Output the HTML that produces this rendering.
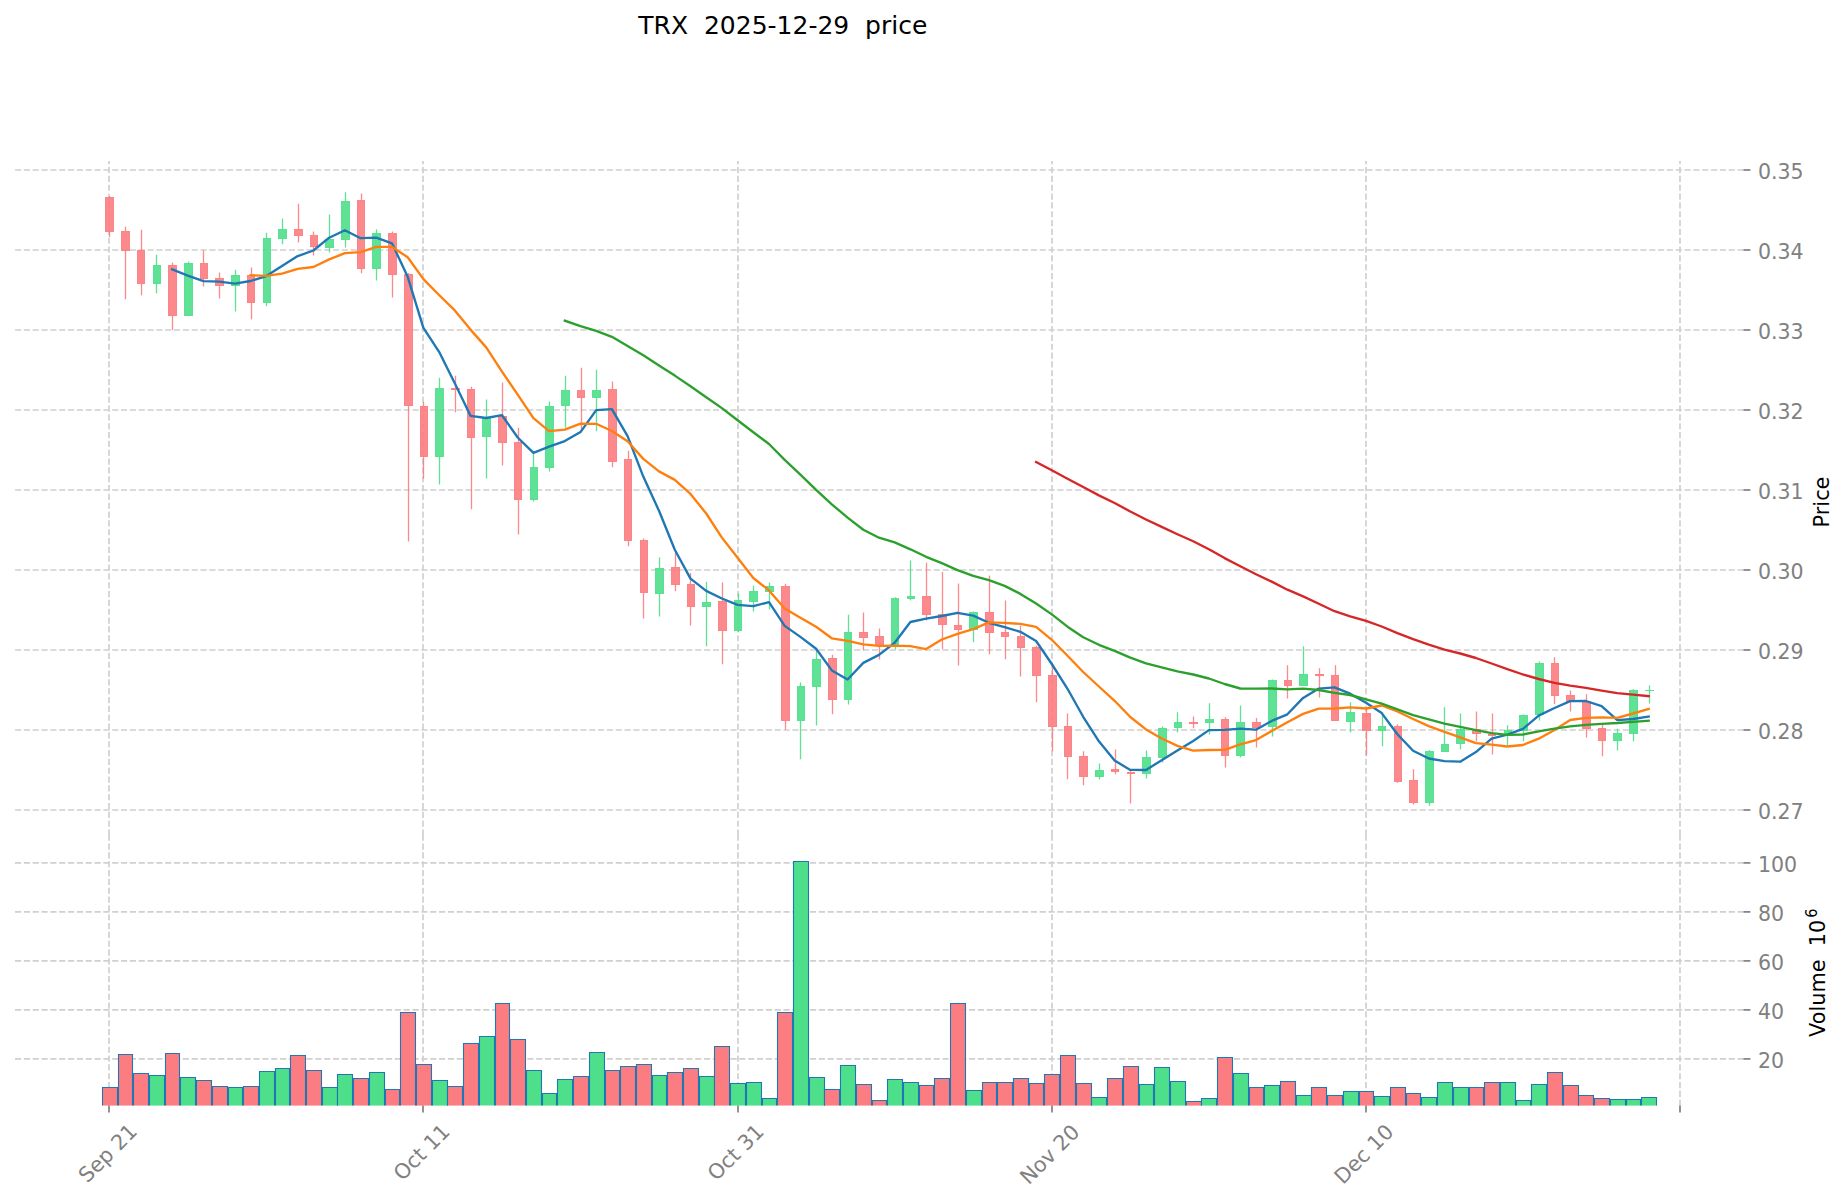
<!DOCTYPE html>
<html lang="en"><head><meta charset="utf-8"><title>TRX 2025-12-29 price</title>
<style>html,body{margin:0;padding:0;background:#fff}svg{display:block}text{font-family:"DejaVu Sans", "Liberation Sans", sans-serif;white-space:pre}</style>
</head><body>
<svg width="1847" height="1202" viewBox="0 0 1847 1202">
<rect width="1847" height="1202" fill="#ffffff"/>
<g stroke="#d0d0d0" stroke-width="1.7" stroke-dasharray="6.1667 2.6667" fill="none">
<path d="M15 170.0H1743.4"/>
<path d="M15 250.0H1743.4"/>
<path d="M15 330.0H1743.4"/>
<path d="M15 410.0H1743.4"/>
<path d="M15 490.0H1743.4"/>
<path d="M15 570.0H1743.4"/>
<path d="M15 650.0H1743.4"/>
<path d="M15 730.0H1743.4"/>
<path d="M15 810.0H1743.4"/>
<path d="M15 1058.9H1743.4"/>
<path d="M15 1009.9H1743.4"/>
<path d="M15 960.9H1743.4"/>
<path d="M15 911.9H1743.4"/>
<path d="M15 862.9H1743.4"/>
<path d="M109.0 835.65V161M109.0 1105.8V835.65"/>
<path d="M423.0 835.65V161M423.0 1105.8V835.65"/>
<path d="M738.0 835.65V161M738.0 1105.8V835.65"/>
<path d="M1052.0 835.65V161M1052.0 1105.8V835.65"/>
<path d="M1366.0 835.65V161M1366.0 1105.8V835.65"/>
<path d="M1680.0 835.65V161M1680.0 1105.8V835.65"/>
</g>
<g stroke="#808080" stroke-width="1.7" fill="none">
<path d="M1743.4 170.0h7"/>
<path d="M1743.4 250.0h7"/>
<path d="M1743.4 330.0h7"/>
<path d="M1743.4 410.0h7"/>
<path d="M1743.4 490.0h7"/>
<path d="M1743.4 570.0h7"/>
<path d="M1743.4 650.0h7"/>
<path d="M1743.4 730.0h7"/>
<path d="M1743.4 810.0h7"/>
<path d="M1743.4 1058.9h7"/>
<path d="M1743.4 1009.9h7"/>
<path d="M1743.4 960.9h7"/>
<path d="M1743.4 911.9h7"/>
<path d="M1743.4 862.9h7"/>
<path d="M109.0 1105.6v7"/>
<path d="M423.0 1105.6v7"/>
<path d="M738.0 1105.6v7"/>
<path d="M1052.0 1105.6v7"/>
<path d="M1366.0 1105.6v7"/>
<path d="M1680.0 1105.6v7"/>
</g>
<g stroke="#1f77b4" stroke-width="1.1">
<path d="M102.5 1105.6V1087.5H117.5V1105.6" fill="#fc7d81"/>
<path d="M118.5 1105.6V1054.5H132.5V1105.6" fill="#fc7d81"/>
<path d="M133.5 1105.6V1073.5H148.5V1105.6" fill="#fc7d81"/>
<path d="M149.5 1105.6V1075.5H164.5V1105.6" fill="#4edf8a"/>
<path d="M165.5 1105.6V1053.5H179.5V1105.6" fill="#fc7d81"/>
<path d="M180.5 1105.6V1077.5H195.5V1105.6" fill="#4edf8a"/>
<path d="M196.5 1105.6V1080.5H211.5V1105.6" fill="#fc7d81"/>
<path d="M212.5 1105.6V1086.5H227.5V1105.6" fill="#fc7d81"/>
<path d="M228.5 1105.6V1087.5H242.5V1105.6" fill="#4edf8a"/>
<path d="M243.5 1105.6V1086.5H258.5V1105.6" fill="#fc7d81"/>
<path d="M259.5 1105.6V1071.5H274.5V1105.6" fill="#4edf8a"/>
<path d="M275.5 1105.6V1068.5H289.5V1105.6" fill="#4edf8a"/>
<path d="M290.5 1105.6V1055.5H305.5V1105.6" fill="#fc7d81"/>
<path d="M306.5 1105.6V1070.5H321.5V1105.6" fill="#fc7d81"/>
<path d="M322.5 1105.6V1087.5H337.5V1105.6" fill="#4edf8a"/>
<path d="M337.5 1105.6V1074.5H352.5V1105.6" fill="#4edf8a"/>
<path d="M353.5 1105.6V1078.5H368.5V1105.6" fill="#fc7d81"/>
<path d="M369.5 1105.6V1072.5H384.5V1105.6" fill="#4edf8a"/>
<path d="M385.5 1105.6V1089.5H399.5V1105.6" fill="#fc7d81"/>
<path d="M400.5 1105.6V1012.5H415.5V1105.6" fill="#fc7d81"/>
<path d="M416.5 1105.6V1064.5H431.5V1105.6" fill="#fc7d81"/>
<path d="M432.5 1105.6V1080.5H447.5V1105.6" fill="#4edf8a"/>
<path d="M447.5 1105.6V1086.5H462.5V1105.6" fill="#fc7d81"/>
<path d="M463.5 1105.6V1043.5H478.5V1105.6" fill="#fc7d81"/>
<path d="M479.5 1105.6V1036.5H494.5V1105.6" fill="#4edf8a"/>
<path d="M495.5 1105.6V1003.5H509.5V1105.6" fill="#fc7d81"/>
<path d="M510.5 1105.6V1039.5H525.5V1105.6" fill="#fc7d81"/>
<path d="M526.5 1105.6V1070.5H541.5V1105.6" fill="#4edf8a"/>
<path d="M542.5 1105.6V1093.5H556.5V1105.6" fill="#4edf8a"/>
<path d="M557.5 1105.6V1079.5H572.5V1105.6" fill="#4edf8a"/>
<path d="M573.5 1105.6V1076.5H588.5V1105.6" fill="#fc7d81"/>
<path d="M589.5 1105.6V1052.5H604.5V1105.6" fill="#4edf8a"/>
<path d="M605.5 1105.6V1070.5H619.5V1105.6" fill="#fc7d81"/>
<path d="M620.5 1105.6V1066.5H635.5V1105.6" fill="#fc7d81"/>
<path d="M636.5 1105.6V1064.5H651.5V1105.6" fill="#fc7d81"/>
<path d="M652.5 1105.6V1075.5H666.5V1105.6" fill="#4edf8a"/>
<path d="M667.5 1105.6V1072.5H682.5V1105.6" fill="#fc7d81"/>
<path d="M683.5 1105.6V1068.5H698.5V1105.6" fill="#fc7d81"/>
<path d="M699.5 1105.6V1076.5H714.5V1105.6" fill="#4edf8a"/>
<path d="M714.5 1105.6V1046.5H729.5V1105.6" fill="#fc7d81"/>
<path d="M730.5 1105.6V1083.5H745.5V1105.6" fill="#4edf8a"/>
<path d="M746.5 1105.6V1082.5H761.5V1105.6" fill="#4edf8a"/>
<path d="M762.5 1105.6V1098.5H776.5V1105.6" fill="#4edf8a"/>
<path d="M777.5 1105.6V1012.5H792.5V1105.6" fill="#fc7d81"/>
<path d="M793.5 1105.6V861.5H808.5V1105.6" fill="#4edf8a"/>
<path d="M809.5 1105.6V1077.5H824.5V1105.6" fill="#4edf8a"/>
<path d="M824.5 1105.6V1089.5H839.5V1105.6" fill="#fc7d81"/>
<path d="M840.5 1105.6V1065.5H855.5V1105.6" fill="#4edf8a"/>
<path d="M856.5 1105.6V1084.5H871.5V1105.6" fill="#fc7d81"/>
<path d="M872.5 1105.6V1100.5H886.5V1105.6" fill="#fc7d81"/>
<path d="M887.5 1105.6V1079.5H902.5V1105.6" fill="#4edf8a"/>
<path d="M903.5 1105.6V1082.5H918.5V1105.6" fill="#4edf8a"/>
<path d="M919.5 1105.6V1085.5H933.5V1105.6" fill="#fc7d81"/>
<path d="M934.5 1105.6V1078.5H949.5V1105.6" fill="#fc7d81"/>
<path d="M950.5 1105.6V1003.5H965.5V1105.6" fill="#fc7d81"/>
<path d="M966.5 1105.6V1090.5H981.5V1105.6" fill="#4edf8a"/>
<path d="M982.5 1105.6V1082.5H996.5V1105.6" fill="#fc7d81"/>
<path d="M997.5 1105.6V1082.5H1012.5V1105.6" fill="#fc7d81"/>
<path d="M1013.5 1105.6V1078.5H1028.5V1105.6" fill="#fc7d81"/>
<path d="M1029.5 1105.6V1083.5H1043.5V1105.6" fill="#fc7d81"/>
<path d="M1044.5 1105.6V1074.5H1059.5V1105.6" fill="#fc7d81"/>
<path d="M1060.5 1105.6V1055.5H1075.5V1105.6" fill="#fc7d81"/>
<path d="M1076.5 1105.6V1083.5H1091.5V1105.6" fill="#fc7d81"/>
<path d="M1091.5 1105.6V1097.5H1106.5V1105.6" fill="#4edf8a"/>
<path d="M1107.5 1105.6V1078.5H1122.5V1105.6" fill="#fc7d81"/>
<path d="M1123.5 1105.6V1066.5H1138.5V1105.6" fill="#fc7d81"/>
<path d="M1139.5 1105.6V1084.5H1153.5V1105.6" fill="#4edf8a"/>
<path d="M1154.5 1105.6V1067.5H1169.5V1105.6" fill="#4edf8a"/>
<path d="M1170.5 1105.6V1081.5H1185.5V1105.6" fill="#4edf8a"/>
<path d="M1186.5 1105.6V1101.5H1201.5V1105.6" fill="#fc7d81"/>
<path d="M1201.5 1105.6V1098.5H1216.5V1105.6" fill="#4edf8a"/>
<path d="M1217.5 1105.6V1057.5H1232.5V1105.6" fill="#fc7d81"/>
<path d="M1233.5 1105.6V1073.5H1248.5V1105.6" fill="#4edf8a"/>
<path d="M1249.5 1105.6V1087.5H1263.5V1105.6" fill="#fc7d81"/>
<path d="M1264.5 1105.6V1085.5H1279.5V1105.6" fill="#4edf8a"/>
<path d="M1280.5 1105.6V1081.5H1295.5V1105.6" fill="#fc7d81"/>
<path d="M1296.5 1105.6V1095.5H1311.5V1105.6" fill="#4edf8a"/>
<path d="M1311.5 1105.6V1087.5H1326.5V1105.6" fill="#fc7d81"/>
<path d="M1327.5 1105.6V1095.5H1342.5V1105.6" fill="#fc7d81"/>
<path d="M1343.5 1105.6V1091.5H1358.5V1105.6" fill="#4edf8a"/>
<path d="M1359.5 1105.6V1091.5H1373.5V1105.6" fill="#fc7d81"/>
<path d="M1374.5 1105.6V1096.5H1389.5V1105.6" fill="#4edf8a"/>
<path d="M1390.5 1105.6V1087.5H1405.5V1105.6" fill="#fc7d81"/>
<path d="M1406.5 1105.6V1093.5H1420.5V1105.6" fill="#fc7d81"/>
<path d="M1421.5 1105.6V1097.5H1436.5V1105.6" fill="#4edf8a"/>
<path d="M1437.5 1105.6V1082.5H1452.5V1105.6" fill="#4edf8a"/>
<path d="M1453.5 1105.6V1087.5H1468.5V1105.6" fill="#4edf8a"/>
<path d="M1469.5 1105.6V1087.5H1483.5V1105.6" fill="#fc7d81"/>
<path d="M1484.5 1105.6V1082.5H1499.5V1105.6" fill="#fc7d81"/>
<path d="M1500.5 1105.6V1082.5H1515.5V1105.6" fill="#4edf8a"/>
<path d="M1516.5 1105.6V1100.5H1530.5V1105.6" fill="#4edf8a"/>
<path d="M1531.5 1105.6V1084.5H1546.5V1105.6" fill="#4edf8a"/>
<path d="M1547.5 1105.6V1072.5H1562.5V1105.6" fill="#fc7d81"/>
<path d="M1563.5 1105.6V1085.5H1578.5V1105.6" fill="#fc7d81"/>
<path d="M1578.5 1105.6V1095.5H1593.5V1105.6" fill="#fc7d81"/>
<path d="M1594.5 1105.6V1098.5H1609.5V1105.6" fill="#fc7d81"/>
<path d="M1610.5 1105.6V1099.5H1625.5V1105.6" fill="#4edf8a"/>
<path d="M1626.5 1105.6V1099.5H1640.5V1105.6" fill="#4edf8a"/>
<path d="M1641.5 1105.6V1097.5H1656.5V1105.6" fill="#4edf8a"/>
</g>
<g>
<path d="M109.5 195.9V197.5M109.5 231.5V237.1" stroke="#fc7d81" stroke-width="1.3" stroke-opacity="0.9"/>
<rect x="105.5" y="197.5" width="8" height="34" fill="#fc7d81" fill-opacity="0.9" stroke="#fc7d81" stroke-opacity="0.9" stroke-width="1"/>
<path d="M125.5 226.7V231.5M125.5 250.5V299.2" stroke="#fc7d81" stroke-width="1.3" stroke-opacity="0.9"/>
<rect x="121.5" y="231.5" width="8" height="19" fill="#fc7d81" fill-opacity="0.9" stroke="#fc7d81" stroke-opacity="0.9" stroke-width="1"/>
<path d="M141.5 229.7V250.5M141.5 283.5V295.3" stroke="#fc7d81" stroke-width="1.3" stroke-opacity="0.9"/>
<rect x="137.5" y="250.5" width="7" height="33" fill="#fc7d81" fill-opacity="0.9" stroke="#fc7d81" stroke-opacity="0.9" stroke-width="1"/>
<path d="M156.5 254.7V265.5M156.5 283.5V293.5" stroke="#4edf8a" stroke-width="1.3" stroke-opacity="0.9"/>
<rect x="153.5" y="265.5" width="7" height="18" fill="#4edf8a" fill-opacity="0.9" stroke="#4edf8a" stroke-opacity="0.9" stroke-width="1"/>
<path d="M172.5 262.6V265.5M172.5 315.5V329.9" stroke="#fc7d81" stroke-width="1.3" stroke-opacity="0.9"/>
<rect x="168.5" y="265.5" width="8" height="50" fill="#fc7d81" fill-opacity="0.9" stroke="#fc7d81" stroke-opacity="0.9" stroke-width="1"/>
<path d="M188.5 261.6V263.5" stroke="#4edf8a" stroke-width="1.3" stroke-opacity="0.9"/>
<rect x="184.5" y="263.5" width="8" height="52" fill="#4edf8a" fill-opacity="0.9" stroke="#4edf8a" stroke-opacity="0.9" stroke-width="1"/>
<path d="M203.5 250.5V263.5M203.5 278.5V286.4" stroke="#fc7d81" stroke-width="1.3" stroke-opacity="0.9"/>
<rect x="200.5" y="263.5" width="7" height="15" fill="#fc7d81" fill-opacity="0.9" stroke="#fc7d81" stroke-opacity="0.9" stroke-width="1"/>
<path d="M219.5 272.5V278.5M219.5 285.5V298.5" stroke="#fc7d81" stroke-width="1.3" stroke-opacity="0.9"/>
<rect x="215.5" y="278.5" width="8" height="7" fill="#fc7d81" fill-opacity="0.9" stroke="#fc7d81" stroke-opacity="0.9" stroke-width="1"/>
<path d="M235.5 269.8V275.5M235.5 285.5V311.4" stroke="#4edf8a" stroke-width="1.3" stroke-opacity="0.9"/>
<rect x="231.5" y="275.5" width="8" height="10" fill="#4edf8a" fill-opacity="0.9" stroke="#4edf8a" stroke-opacity="0.9" stroke-width="1"/>
<path d="M251.5 267.6V275.5M251.5 302.5V319.3" stroke="#fc7d81" stroke-width="1.3" stroke-opacity="0.9"/>
<rect x="247.5" y="275.5" width="7" height="27" fill="#fc7d81" fill-opacity="0.9" stroke="#fc7d81" stroke-opacity="0.9" stroke-width="1"/>
<path d="M266.5 232.7V238.5M266.5 302.5V306.2" stroke="#4edf8a" stroke-width="1.3" stroke-opacity="0.9"/>
<rect x="263.5" y="238.5" width="7" height="64" fill="#4edf8a" fill-opacity="0.9" stroke="#4edf8a" stroke-opacity="0.9" stroke-width="1"/>
<path d="M282.5 218.6V229.5M282.5 238.5V244.3" stroke="#4edf8a" stroke-width="1.3" stroke-opacity="0.9"/>
<rect x="278.5" y="229.5" width="8" height="9" fill="#4edf8a" fill-opacity="0.9" stroke="#4edf8a" stroke-opacity="0.9" stroke-width="1"/>
<path d="M298.5 203.7V229.5M298.5 235.5V242.4" stroke="#fc7d81" stroke-width="1.3" stroke-opacity="0.9"/>
<rect x="294.5" y="229.5" width="8" height="6" fill="#fc7d81" fill-opacity="0.9" stroke="#fc7d81" stroke-opacity="0.9" stroke-width="1"/>
<path d="M313.5 231.5V235.5M313.5 246.5V255.5" stroke="#fc7d81" stroke-width="1.3" stroke-opacity="0.9"/>
<rect x="310.5" y="235.5" width="7" height="11" fill="#fc7d81" fill-opacity="0.9" stroke="#fc7d81" stroke-opacity="0.9" stroke-width="1"/>
<path d="M329.5 214.6V239.5M329.5 247.5V252.5" stroke="#4edf8a" stroke-width="1.3" stroke-opacity="0.9"/>
<rect x="325.5" y="239.5" width="8" height="8" fill="#4edf8a" fill-opacity="0.9" stroke="#4edf8a" stroke-opacity="0.9" stroke-width="1"/>
<path d="M345.5 192.3V201.5M345.5 239.5V247.5" stroke="#4edf8a" stroke-width="1.3" stroke-opacity="0.9"/>
<rect x="341.5" y="201.5" width="8" height="38" fill="#4edf8a" fill-opacity="0.9" stroke="#4edf8a" stroke-opacity="0.9" stroke-width="1"/>
<path d="M361.5 193.4V200.5M361.5 268.5V273.3" stroke="#fc7d81" stroke-width="1.3" stroke-opacity="0.9"/>
<rect x="357.5" y="200.5" width="7" height="68" fill="#fc7d81" fill-opacity="0.9" stroke="#fc7d81" stroke-opacity="0.9" stroke-width="1"/>
<path d="M376.5 229.3V233.5M376.5 268.5V280.4" stroke="#4edf8a" stroke-width="1.3" stroke-opacity="0.9"/>
<rect x="372.5" y="233.5" width="8" height="35" fill="#4edf8a" fill-opacity="0.9" stroke="#4edf8a" stroke-opacity="0.9" stroke-width="1"/>
<path d="M392.5 231.5V233.5M392.5 274.5V297.5" stroke="#fc7d81" stroke-width="1.3" stroke-opacity="0.9"/>
<rect x="388.5" y="233.5" width="8" height="41" fill="#fc7d81" fill-opacity="0.9" stroke="#fc7d81" stroke-opacity="0.9" stroke-width="1"/>
<path d="M408.5 272.9V274.5M408.5 405.5V541.5" stroke="#fc7d81" stroke-width="1.3" stroke-opacity="0.9"/>
<rect x="404.5" y="274.5" width="8" height="131" fill="#fc7d81" fill-opacity="0.9" stroke="#fc7d81" stroke-opacity="0.9" stroke-width="1"/>
<path d="M423.5 401.8V406.5M423.5 456.5V478.7" stroke="#fc7d81" stroke-width="1.3" stroke-opacity="0.9"/>
<rect x="420.5" y="406.5" width="7" height="50" fill="#fc7d81" fill-opacity="0.9" stroke="#fc7d81" stroke-opacity="0.9" stroke-width="1"/>
<path d="M439.5 377.8V388.5M439.5 456.5V484.4" stroke="#4edf8a" stroke-width="1.3" stroke-opacity="0.9"/>
<rect x="435.5" y="388.5" width="8" height="68" fill="#4edf8a" fill-opacity="0.9" stroke="#4edf8a" stroke-opacity="0.9" stroke-width="1"/>
<path d="M455.5 375.8V388.5M455.5 389.5V412.2" stroke="#fc7d81" stroke-width="1.3" stroke-opacity="0.9"/>
<rect x="451.5" y="388.5" width="8" height="1" fill="#fc7d81" fill-opacity="0.9" stroke="#fc7d81" stroke-opacity="0.9" stroke-width="1"/>
<path d="M471.5 386.7V389.5M471.5 437.5V509.2" stroke="#fc7d81" stroke-width="1.3" stroke-opacity="0.9"/>
<rect x="467.5" y="389.5" width="7" height="48" fill="#fc7d81" fill-opacity="0.9" stroke="#fc7d81" stroke-opacity="0.9" stroke-width="1"/>
<path d="M486.5 399.6V417.5M486.5 436.5V478.4" stroke="#4edf8a" stroke-width="1.3" stroke-opacity="0.9"/>
<rect x="482.5" y="417.5" width="8" height="19" fill="#4edf8a" fill-opacity="0.9" stroke="#4edf8a" stroke-opacity="0.9" stroke-width="1"/>
<path d="M502.5 382.5V416.5M502.5 442.5V465.6" stroke="#fc7d81" stroke-width="1.3" stroke-opacity="0.9"/>
<rect x="498.5" y="416.5" width="8" height="26" fill="#fc7d81" fill-opacity="0.9" stroke="#fc7d81" stroke-opacity="0.9" stroke-width="1"/>
<path d="M518.5 427.8V442.5M518.5 499.5V534.4" stroke="#fc7d81" stroke-width="1.3" stroke-opacity="0.9"/>
<rect x="514.5" y="442.5" width="7" height="57" fill="#fc7d81" fill-opacity="0.9" stroke="#fc7d81" stroke-opacity="0.9" stroke-width="1"/>
<path d="M533.5 453.9V467.5M533.5 499.5V501.5" stroke="#4edf8a" stroke-width="1.3" stroke-opacity="0.9"/>
<rect x="530.5" y="467.5" width="7" height="32" fill="#4edf8a" fill-opacity="0.9" stroke="#4edf8a" stroke-opacity="0.9" stroke-width="1"/>
<path d="M549.5 401.6V406.5M549.5 467.5V471.5" stroke="#4edf8a" stroke-width="1.3" stroke-opacity="0.9"/>
<rect x="545.5" y="406.5" width="8" height="61" fill="#4edf8a" fill-opacity="0.9" stroke="#4edf8a" stroke-opacity="0.9" stroke-width="1"/>
<path d="M565.5 375.8V390.5M565.5 405.5V427.8" stroke="#4edf8a" stroke-width="1.3" stroke-opacity="0.9"/>
<rect x="561.5" y="390.5" width="8" height="15" fill="#4edf8a" fill-opacity="0.9" stroke="#4edf8a" stroke-opacity="0.9" stroke-width="1"/>
<path d="M581.5 367.7V390.5M581.5 397.5V430.4" stroke="#fc7d81" stroke-width="1.3" stroke-opacity="0.9"/>
<rect x="577.5" y="390.5" width="7" height="7" fill="#fc7d81" fill-opacity="0.9" stroke="#fc7d81" stroke-opacity="0.9" stroke-width="1"/>
<path d="M596.5 369.7V390.5M596.5 397.5V431.2" stroke="#4edf8a" stroke-width="1.3" stroke-opacity="0.9"/>
<rect x="592.5" y="390.5" width="8" height="7" fill="#4edf8a" fill-opacity="0.9" stroke="#4edf8a" stroke-opacity="0.9" stroke-width="1"/>
<path d="M612.5 381.4V389.5M612.5 461.5V467.3" stroke="#fc7d81" stroke-width="1.3" stroke-opacity="0.9"/>
<rect x="608.5" y="389.5" width="8" height="72" fill="#fc7d81" fill-opacity="0.9" stroke="#fc7d81" stroke-opacity="0.9" stroke-width="1"/>
<path d="M628.5 450.8V459.5M628.5 540.5V546.3" stroke="#fc7d81" stroke-width="1.3" stroke-opacity="0.9"/>
<rect x="624.5" y="459.5" width="7" height="81" fill="#fc7d81" fill-opacity="0.9" stroke="#fc7d81" stroke-opacity="0.9" stroke-width="1"/>
<path d="M643.5 538.5V540.5M643.5 592.5V618.4" stroke="#fc7d81" stroke-width="1.3" stroke-opacity="0.9"/>
<rect x="640.5" y="540.5" width="7" height="52" fill="#fc7d81" fill-opacity="0.9" stroke="#fc7d81" stroke-opacity="0.9" stroke-width="1"/>
<path d="M659.5 557.5V568.5M659.5 593.5V616.5" stroke="#4edf8a" stroke-width="1.3" stroke-opacity="0.9"/>
<rect x="655.5" y="568.5" width="8" height="25" fill="#4edf8a" fill-opacity="0.9" stroke="#4edf8a" stroke-opacity="0.9" stroke-width="1"/>
<path d="M675.5 552.8V567.5M675.5 584.5V591.3" stroke="#fc7d81" stroke-width="1.3" stroke-opacity="0.9"/>
<rect x="671.5" y="567.5" width="8" height="17" fill="#fc7d81" fill-opacity="0.9" stroke="#fc7d81" stroke-opacity="0.9" stroke-width="1"/>
<path d="M690.5 572.9V584.5M690.5 606.5V625.4" stroke="#fc7d81" stroke-width="1.3" stroke-opacity="0.9"/>
<rect x="687.5" y="584.5" width="7" height="22" fill="#fc7d81" fill-opacity="0.9" stroke="#fc7d81" stroke-opacity="0.9" stroke-width="1"/>
<path d="M706.5 581.8V602.5M706.5 606.5V646.2" stroke="#4edf8a" stroke-width="1.3" stroke-opacity="0.9"/>
<rect x="702.5" y="602.5" width="8" height="4" fill="#4edf8a" fill-opacity="0.9" stroke="#4edf8a" stroke-opacity="0.9" stroke-width="1"/>
<path d="M722.5 582.6V601.5M722.5 630.5V664.3" stroke="#fc7d81" stroke-width="1.3" stroke-opacity="0.9"/>
<rect x="718.5" y="601.5" width="8" height="29" fill="#fc7d81" fill-opacity="0.9" stroke="#fc7d81" stroke-opacity="0.9" stroke-width="1"/>
<path d="M738.5 593.5V600.5M738.5 630.5V632.1" stroke="#4edf8a" stroke-width="1.3" stroke-opacity="0.9"/>
<rect x="734.5" y="600.5" width="7" height="30" fill="#4edf8a" fill-opacity="0.9" stroke="#4edf8a" stroke-opacity="0.9" stroke-width="1"/>
<path d="M753.5 585.8V591.5M753.5 601.5V611.5" stroke="#4edf8a" stroke-width="1.3" stroke-opacity="0.9"/>
<rect x="749.5" y="591.5" width="8" height="10" fill="#4edf8a" fill-opacity="0.9" stroke="#4edf8a" stroke-opacity="0.9" stroke-width="1"/>
<path d="M769.5 582.4V586.5M769.5 591.5V609.5" stroke="#4edf8a" stroke-width="1.3" stroke-opacity="0.9"/>
<rect x="765.5" y="586.5" width="8" height="5" fill="#4edf8a" fill-opacity="0.9" stroke="#4edf8a" stroke-opacity="0.9" stroke-width="1"/>
<path d="M785.5 583.8V586.5M785.5 720.5V729.4" stroke="#fc7d81" stroke-width="1.3" stroke-opacity="0.9"/>
<rect x="781.5" y="586.5" width="8" height="134" fill="#fc7d81" fill-opacity="0.9" stroke="#fc7d81" stroke-opacity="0.9" stroke-width="1"/>
<path d="M800.5 682.4V686.5M800.5 720.5V759.3" stroke="#4edf8a" stroke-width="1.3" stroke-opacity="0.9"/>
<rect x="797.5" y="686.5" width="7" height="34" fill="#4edf8a" fill-opacity="0.9" stroke="#4edf8a" stroke-opacity="0.9" stroke-width="1"/>
<path d="M816.5 648.4V659.5M816.5 686.5V725.4" stroke="#4edf8a" stroke-width="1.3" stroke-opacity="0.9"/>
<rect x="812.5" y="659.5" width="8" height="27" fill="#4edf8a" fill-opacity="0.9" stroke="#4edf8a" stroke-opacity="0.9" stroke-width="1"/>
<path d="M832.5 654.8V658.5M832.5 699.5V714.3" stroke="#fc7d81" stroke-width="1.3" stroke-opacity="0.9"/>
<rect x="828.5" y="658.5" width="8" height="41" fill="#fc7d81" fill-opacity="0.9" stroke="#fc7d81" stroke-opacity="0.9" stroke-width="1"/>
<path d="M848.5 614.8V632.5M848.5 699.5V704.4" stroke="#4edf8a" stroke-width="1.3" stroke-opacity="0.9"/>
<rect x="844.5" y="632.5" width="7" height="67" fill="#4edf8a" fill-opacity="0.9" stroke="#4edf8a" stroke-opacity="0.9" stroke-width="1"/>
<path d="M863.5 612.6V632.5M863.5 637.5V650.2" stroke="#fc7d81" stroke-width="1.3" stroke-opacity="0.9"/>
<rect x="859.5" y="632.5" width="8" height="5" fill="#fc7d81" fill-opacity="0.9" stroke="#fc7d81" stroke-opacity="0.9" stroke-width="1"/>
<path d="M879.5 628.6V636.5M879.5 645.5V659.4" stroke="#fc7d81" stroke-width="1.3" stroke-opacity="0.9"/>
<rect x="875.5" y="636.5" width="8" height="9" fill="#fc7d81" fill-opacity="0.9" stroke="#fc7d81" stroke-opacity="0.9" stroke-width="1"/>
<path d="M895.5 597.2V598.5M895.5 644.5V649.5" stroke="#4edf8a" stroke-width="1.3" stroke-opacity="0.9"/>
<rect x="891.5" y="598.5" width="7" height="46" fill="#4edf8a" fill-opacity="0.9" stroke="#4edf8a" stroke-opacity="0.9" stroke-width="1"/>
<path d="M910.5 560.6V596.5M910.5 598.5V600.6" stroke="#4edf8a" stroke-width="1.3" stroke-opacity="0.9"/>
<rect x="907.5" y="596.5" width="7" height="2" fill="#4edf8a" fill-opacity="0.9" stroke="#4edf8a" stroke-opacity="0.9" stroke-width="1"/>
<path d="M926.5 562.8V596.5M926.5 614.5V620.4" stroke="#fc7d81" stroke-width="1.3" stroke-opacity="0.9"/>
<rect x="922.5" y="596.5" width="8" height="18" fill="#fc7d81" fill-opacity="0.9" stroke="#fc7d81" stroke-opacity="0.9" stroke-width="1"/>
<path d="M942.5 572.0V614.5M942.5 624.5V649.3" stroke="#fc7d81" stroke-width="1.3" stroke-opacity="0.9"/>
<rect x="938.5" y="614.5" width="8" height="10" fill="#fc7d81" fill-opacity="0.9" stroke="#fc7d81" stroke-opacity="0.9" stroke-width="1"/>
<path d="M958.5 583.4V625.5M958.5 629.5V665.4" stroke="#fc7d81" stroke-width="1.3" stroke-opacity="0.9"/>
<rect x="954.5" y="625.5" width="7" height="4" fill="#fc7d81" fill-opacity="0.9" stroke="#fc7d81" stroke-opacity="0.9" stroke-width="1"/>
<path d="M973.5 611.5V612.5M973.5 629.5V642.2" stroke="#4edf8a" stroke-width="1.3" stroke-opacity="0.9"/>
<rect x="969.5" y="612.5" width="8" height="17" fill="#4edf8a" fill-opacity="0.9" stroke="#4edf8a" stroke-opacity="0.9" stroke-width="1"/>
<path d="M989.5 575.4V612.5M989.5 632.5V654.3" stroke="#fc7d81" stroke-width="1.3" stroke-opacity="0.9"/>
<rect x="985.5" y="612.5" width="8" height="20" fill="#fc7d81" fill-opacity="0.9" stroke="#fc7d81" stroke-opacity="0.9" stroke-width="1"/>
<path d="M1005.5 600.6V632.5M1005.5 636.5V659.3" stroke="#fc7d81" stroke-width="1.3" stroke-opacity="0.9"/>
<rect x="1001.5" y="632.5" width="7" height="4" fill="#fc7d81" fill-opacity="0.9" stroke="#fc7d81" stroke-opacity="0.9" stroke-width="1"/>
<path d="M1020.5 625.8V636.5M1020.5 647.5V676.5" stroke="#fc7d81" stroke-width="1.3" stroke-opacity="0.9"/>
<rect x="1017.5" y="636.5" width="7" height="11" fill="#fc7d81" fill-opacity="0.9" stroke="#fc7d81" stroke-opacity="0.9" stroke-width="1"/>
<path d="M1036.5 645.5V647.5M1036.5 675.5V702.3" stroke="#fc7d81" stroke-width="1.3" stroke-opacity="0.9"/>
<rect x="1032.5" y="647.5" width="8" height="28" fill="#fc7d81" fill-opacity="0.9" stroke="#fc7d81" stroke-opacity="0.9" stroke-width="1"/>
<path d="M1052.5 666.5V675.5M1052.5 726.5V751.3" stroke="#fc7d81" stroke-width="1.3" stroke-opacity="0.9"/>
<rect x="1048.5" y="675.5" width="8" height="51" fill="#fc7d81" fill-opacity="0.9" stroke="#fc7d81" stroke-opacity="0.9" stroke-width="1"/>
<path d="M1067.5 713.5V726.5M1067.5 756.5V779.3" stroke="#fc7d81" stroke-width="1.3" stroke-opacity="0.9"/>
<rect x="1064.5" y="726.5" width="7" height="30" fill="#fc7d81" fill-opacity="0.9" stroke="#fc7d81" stroke-opacity="0.9" stroke-width="1"/>
<path d="M1083.5 751.2V756.5M1083.5 776.5V785.3" stroke="#fc7d81" stroke-width="1.3" stroke-opacity="0.9"/>
<rect x="1079.5" y="756.5" width="8" height="20" fill="#fc7d81" fill-opacity="0.9" stroke="#fc7d81" stroke-opacity="0.9" stroke-width="1"/>
<path d="M1099.5 763.4V770.5M1099.5 776.5V779.4" stroke="#4edf8a" stroke-width="1.3" stroke-opacity="0.9"/>
<rect x="1095.5" y="770.5" width="8" height="6" fill="#4edf8a" fill-opacity="0.9" stroke="#4edf8a" stroke-opacity="0.9" stroke-width="1"/>
<path d="M1115.5 749.5V769.5M1115.5 771.5V774.3" stroke="#fc7d81" stroke-width="1.3" stroke-opacity="0.9"/>
<rect x="1111.5" y="769.5" width="7" height="2" fill="#fc7d81" fill-opacity="0.9" stroke="#fc7d81" stroke-opacity="0.9" stroke-width="1"/>
<path d="M1130.5 770.6V772.5M1130.5 773.5V803.4" stroke="#fc7d81" stroke-width="1.3" stroke-opacity="0.9"/>
<rect x="1127.5" y="772.5" width="7" height="1" fill="#fc7d81" fill-opacity="0.9" stroke="#fc7d81" stroke-opacity="0.9" stroke-width="1"/>
<path d="M1146.5 750.5V757.5M1146.5 773.5V778.5" stroke="#4edf8a" stroke-width="1.3" stroke-opacity="0.9"/>
<rect x="1142.5" y="757.5" width="8" height="16" fill="#4edf8a" fill-opacity="0.9" stroke="#4edf8a" stroke-opacity="0.9" stroke-width="1"/>
<path d="M1162.5 726.5V728.5M1162.5 757.5V762.6" stroke="#4edf8a" stroke-width="1.3" stroke-opacity="0.9"/>
<rect x="1158.5" y="728.5" width="8" height="29" fill="#4edf8a" fill-opacity="0.9" stroke="#4edf8a" stroke-opacity="0.9" stroke-width="1"/>
<path d="M1177.5 712.2V722.5M1177.5 727.5V732.4" stroke="#4edf8a" stroke-width="1.3" stroke-opacity="0.9"/>
<rect x="1174.5" y="722.5" width="7" height="5" fill="#4edf8a" fill-opacity="0.9" stroke="#4edf8a" stroke-opacity="0.9" stroke-width="1"/>
<path d="M1193.5 716.4V722.5M1193.5 723.5V728.2" stroke="#fc7d81" stroke-width="1.3" stroke-opacity="0.9"/>
<rect x="1189.5" y="722.5" width="8" height="1" fill="#fc7d81" fill-opacity="0.9" stroke="#fc7d81" stroke-opacity="0.9" stroke-width="1"/>
<path d="M1209.5 703.3V719.5M1209.5 722.5V734.4" stroke="#4edf8a" stroke-width="1.3" stroke-opacity="0.9"/>
<rect x="1205.5" y="719.5" width="8" height="3" fill="#4edf8a" fill-opacity="0.9" stroke="#4edf8a" stroke-opacity="0.9" stroke-width="1"/>
<path d="M1225.5 717.3V719.5M1225.5 755.5V767.6" stroke="#fc7d81" stroke-width="1.3" stroke-opacity="0.9"/>
<rect x="1221.5" y="719.5" width="7" height="36" fill="#fc7d81" fill-opacity="0.9" stroke="#fc7d81" stroke-opacity="0.9" stroke-width="1"/>
<path d="M1240.5 705.5V722.5M1240.5 755.5V757.6" stroke="#4edf8a" stroke-width="1.3" stroke-opacity="0.9"/>
<rect x="1236.5" y="722.5" width="8" height="33" fill="#4edf8a" fill-opacity="0.9" stroke="#4edf8a" stroke-opacity="0.9" stroke-width="1"/>
<path d="M1256.5 718.1V722.5M1256.5 727.5V747.5" stroke="#fc7d81" stroke-width="1.3" stroke-opacity="0.9"/>
<rect x="1252.5" y="722.5" width="8" height="5" fill="#fc7d81" fill-opacity="0.9" stroke="#fc7d81" stroke-opacity="0.9" stroke-width="1"/>
<path d="M1272.5 679.5V680.5M1272.5 726.5V736.6" stroke="#4edf8a" stroke-width="1.3" stroke-opacity="0.9"/>
<rect x="1268.5" y="680.5" width="8" height="46" fill="#4edf8a" fill-opacity="0.9" stroke="#4edf8a" stroke-opacity="0.9" stroke-width="1"/>
<path d="M1287.5 665.2V680.5M1287.5 685.5V698.5" stroke="#fc7d81" stroke-width="1.3" stroke-opacity="0.9"/>
<rect x="1284.5" y="680.5" width="7" height="5" fill="#fc7d81" fill-opacity="0.9" stroke="#fc7d81" stroke-opacity="0.9" stroke-width="1"/>
<path d="M1303.5 646.3V674.5" stroke="#4edf8a" stroke-width="1.3" stroke-opacity="0.9"/>
<rect x="1299.5" y="674.5" width="8" height="11" fill="#4edf8a" fill-opacity="0.9" stroke="#4edf8a" stroke-opacity="0.9" stroke-width="1"/>
<path d="M1319.5 668.3V674.5M1319.5 675.5V697.6" stroke="#fc7d81" stroke-width="1.3" stroke-opacity="0.9"/>
<rect x="1315.5" y="674.5" width="8" height="1" fill="#fc7d81" fill-opacity="0.9" stroke="#fc7d81" stroke-opacity="0.9" stroke-width="1"/>
<path d="M1335.5 665.2V675.5" stroke="#fc7d81" stroke-width="1.3" stroke-opacity="0.9"/>
<rect x="1331.5" y="675.5" width="7" height="45" fill="#fc7d81" fill-opacity="0.9" stroke="#fc7d81" stroke-opacity="0.9" stroke-width="1"/>
<path d="M1350.5 702.2V712.5M1350.5 721.5V732.4" stroke="#4edf8a" stroke-width="1.3" stroke-opacity="0.9"/>
<rect x="1346.5" y="712.5" width="8" height="9" fill="#4edf8a" fill-opacity="0.9" stroke="#4edf8a" stroke-opacity="0.9" stroke-width="1"/>
<path d="M1366.5 708.9V713.5M1366.5 730.5V755.5" stroke="#fc7d81" stroke-width="1.3" stroke-opacity="0.9"/>
<rect x="1362.5" y="713.5" width="8" height="17" fill="#fc7d81" fill-opacity="0.9" stroke="#fc7d81" stroke-opacity="0.9" stroke-width="1"/>
<path d="M1382.5 712.2V726.5M1382.5 730.5V746.3" stroke="#4edf8a" stroke-width="1.3" stroke-opacity="0.9"/>
<rect x="1378.5" y="726.5" width="7" height="4" fill="#4edf8a" fill-opacity="0.9" stroke="#4edf8a" stroke-opacity="0.9" stroke-width="1"/>
<path d="M1397.5 724.3V726.5M1397.5 781.5V782.7" stroke="#fc7d81" stroke-width="1.3" stroke-opacity="0.9"/>
<rect x="1394.5" y="726.5" width="7" height="55" fill="#fc7d81" fill-opacity="0.9" stroke="#fc7d81" stroke-opacity="0.9" stroke-width="1"/>
<path d="M1413.5 769.3V780.5M1413.5 802.5V804.6" stroke="#fc7d81" stroke-width="1.3" stroke-opacity="0.9"/>
<rect x="1409.5" y="780.5" width="8" height="22" fill="#fc7d81" fill-opacity="0.9" stroke="#fc7d81" stroke-opacity="0.9" stroke-width="1"/>
<path d="M1429.5 750.0V751.5M1429.5 802.5V805.7" stroke="#4edf8a" stroke-width="1.3" stroke-opacity="0.9"/>
<rect x="1425.5" y="751.5" width="8" height="51" fill="#4edf8a" fill-opacity="0.9" stroke="#4edf8a" stroke-opacity="0.9" stroke-width="1"/>
<path d="M1444.5 707.2V744.5" stroke="#4edf8a" stroke-width="1.3" stroke-opacity="0.9"/>
<rect x="1441.5" y="744.5" width="7" height="7" fill="#4edf8a" fill-opacity="0.9" stroke="#4edf8a" stroke-opacity="0.9" stroke-width="1"/>
<path d="M1460.5 713.4V729.5M1460.5 743.5V749.5" stroke="#4edf8a" stroke-width="1.3" stroke-opacity="0.9"/>
<rect x="1456.5" y="729.5" width="8" height="14" fill="#4edf8a" fill-opacity="0.9" stroke="#4edf8a" stroke-opacity="0.9" stroke-width="1"/>
<path d="M1476.5 711.4V729.5M1476.5 733.5V741.6" stroke="#fc7d81" stroke-width="1.3" stroke-opacity="0.9"/>
<rect x="1472.5" y="729.5" width="8" height="4" fill="#fc7d81" fill-opacity="0.9" stroke="#fc7d81" stroke-opacity="0.9" stroke-width="1"/>
<path d="M1492.5 713.4V734.5M1492.5 735.5V754.5" stroke="#fc7d81" stroke-width="1.3" stroke-opacity="0.9"/>
<rect x="1488.5" y="734.5" width="7" height="1" fill="#fc7d81" fill-opacity="0.9" stroke="#fc7d81" stroke-opacity="0.9" stroke-width="1"/>
<path d="M1507.5 725.3V730.5M1507.5 734.5V745.0" stroke="#4edf8a" stroke-width="1.3" stroke-opacity="0.9"/>
<rect x="1504.5" y="730.5" width="7" height="4" fill="#4edf8a" fill-opacity="0.9" stroke="#4edf8a" stroke-opacity="0.9" stroke-width="1"/>
<path d="M1523.5 714.3V715.5M1523.5 730.5V741.3" stroke="#4edf8a" stroke-width="1.3" stroke-opacity="0.9"/>
<rect x="1519.5" y="715.5" width="8" height="15" fill="#4edf8a" fill-opacity="0.9" stroke="#4edf8a" stroke-opacity="0.9" stroke-width="1"/>
<path d="M1539.5 661.4V663.5M1539.5 714.5V720.6" stroke="#4edf8a" stroke-width="1.3" stroke-opacity="0.9"/>
<rect x="1535.5" y="663.5" width="8" height="51" fill="#4edf8a" fill-opacity="0.9" stroke="#4edf8a" stroke-opacity="0.9" stroke-width="1"/>
<path d="M1554.5 657.2V663.5M1554.5 695.5V704.2" stroke="#fc7d81" stroke-width="1.3" stroke-opacity="0.9"/>
<rect x="1551.5" y="663.5" width="7" height="32" fill="#fc7d81" fill-opacity="0.9" stroke="#fc7d81" stroke-opacity="0.9" stroke-width="1"/>
<path d="M1570.5 690.4V695.5M1570.5 701.5V711.4" stroke="#fc7d81" stroke-width="1.3" stroke-opacity="0.9"/>
<rect x="1566.5" y="695.5" width="8" height="6" fill="#fc7d81" fill-opacity="0.9" stroke="#fc7d81" stroke-opacity="0.9" stroke-width="1"/>
<path d="M1586.5 694.3V701.5M1586.5 728.5V737.4" stroke="#fc7d81" stroke-width="1.3" stroke-opacity="0.9"/>
<rect x="1582.5" y="701.5" width="8" height="27" fill="#fc7d81" fill-opacity="0.9" stroke="#fc7d81" stroke-opacity="0.9" stroke-width="1"/>
<path d="M1602.5 724.8V728.5M1602.5 740.5V756.2" stroke="#fc7d81" stroke-width="1.3" stroke-opacity="0.9"/>
<rect x="1598.5" y="728.5" width="7" height="12" fill="#fc7d81" fill-opacity="0.9" stroke="#fc7d81" stroke-opacity="0.9" stroke-width="1"/>
<path d="M1617.5 728.7V733.5M1617.5 740.5V750.5" stroke="#4edf8a" stroke-width="1.3" stroke-opacity="0.9"/>
<rect x="1613.5" y="733.5" width="8" height="7" fill="#4edf8a" fill-opacity="0.9" stroke="#4edf8a" stroke-opacity="0.9" stroke-width="1"/>
<path d="M1633.5 689.1V690.5M1633.5 733.5V741.3" stroke="#4edf8a" stroke-width="1.3" stroke-opacity="0.9"/>
<rect x="1629.5" y="690.5" width="8" height="43" fill="#4edf8a" fill-opacity="0.9" stroke="#4edf8a" stroke-opacity="0.9" stroke-width="1"/>
<path d="M1649.5 685.4V703.5" stroke="#4edf8a" stroke-width="1.3" stroke-opacity="0.9"/>
<path d="M1645.0 690.5H1654.0" stroke="#4edf8a" stroke-width="1" stroke-opacity="0.9"/>
</g>
<path d="M172.1 269.4 L187.8 275.6 L203.5 281.2 L219.2 281.6 L234.9 283.6 L250.6 281.0 L266.3 276.1 L282.0 266.1 L297.7 256.1 L313.4 250.5 L329.2 237.7 L344.9 230.3 L360.6 238.2 L376.3 237.7 L392.0 243.3 L407.7 276.8 L423.4 327.9 L439.1 351.8 L454.8 383.2 L470.5 415.8 L486.2 418.0 L502.0 415.2 L517.7 437.5 L533.4 452.9 L549.1 446.6 L564.8 441.1 L580.5 432.1 L596.2 410.1 L611.9 409.1 L627.6 436.1 L643.3 476.6 L659.0 510.8 L674.8 549.7 L690.5 578.6 L706.2 590.9 L721.9 598.5 L737.6 604.9 L753.3 606.2 L769.0 602.1 L784.7 625.9 L800.4 636.9 L816.1 648.7 L831.8 670.4 L847.6 679.5 L863.3 662.9 L879.0 654.9 L894.7 642.7 L910.4 622.0 L926.1 618.6 L941.8 616.0 L957.5 612.8 L973.2 615.6 L988.9 622.8 L1004.6 627.2 L1020.4 631.8 L1036.1 641.0 L1051.8 664.0 L1067.5 688.8 L1083.2 716.8 L1098.9 741.3 L1114.6 760.5 L1130.3 769.9 L1146.0 770.0 L1161.7 760.2 L1177.4 750.6 L1193.2 741.0 L1208.9 730.1 L1224.6 729.8 L1240.3 728.6 L1256.0 729.7 L1271.7 720.9 L1287.4 714.3 L1303.1 697.9 L1318.8 688.6 L1334.5 687.3 L1350.2 693.7 L1366.0 702.7 L1381.7 713.1 L1397.4 734.3 L1413.1 750.7 L1428.8 758.5 L1444.5 761.1 L1460.2 761.7 L1475.9 752.1 L1491.6 738.7 L1507.3 734.6 L1523.0 728.8 L1538.7 715.6 L1554.5 708.0 L1570.2 701.2 L1585.9 701.0 L1601.6 706.1 L1617.3 720.1 L1633.0 719.0 L1648.7 716.5" fill="none" stroke="#1f77b4" stroke-width="2.35" stroke-linejoin="round" stroke-linecap="square"/>
<path d="M250.6 275.2 L266.3 275.9 L282.0 273.7 L297.7 268.9 L313.4 267.0 L329.2 259.4 L344.9 253.2 L360.6 252.2 L376.3 246.9 L392.0 246.9 L407.7 257.2 L423.4 279.1 L439.1 295.0 L454.8 310.4 L470.5 329.6 L486.2 347.4 L502.0 371.6 L517.7 394.7 L533.4 418.1 L549.1 431.2 L564.8 429.6 L580.5 423.6 L596.2 423.8 L611.9 431.0 L627.6 441.3 L643.3 458.9 L659.0 471.4 L674.8 479.9 L690.5 493.9 L706.2 513.5 L721.9 537.6 L737.6 557.8 L753.3 578.0 L769.0 590.4 L784.7 608.4 L800.4 617.7 L816.1 626.8 L831.8 638.3 L847.6 640.8 L863.3 644.4 L879.0 645.9 L894.7 645.7 L910.4 646.2 L926.1 649.1 L941.8 639.5 L957.5 633.8 L973.2 629.1 L988.9 622.4 L1004.6 622.9 L1020.4 623.9 L1036.1 626.9 L1051.8 639.8 L1067.5 655.8 L1083.2 672.0 L1098.9 686.5 L1114.6 700.8 L1130.3 717.0 L1146.0 729.4 L1161.7 738.5 L1177.4 745.9 L1193.2 750.7 L1208.9 750.0 L1224.6 749.9 L1240.3 744.4 L1256.0 740.1 L1271.7 731.0 L1287.4 722.2 L1303.1 713.9 L1318.8 708.6 L1334.5 708.5 L1350.2 707.3 L1366.0 708.5 L1381.7 705.5 L1397.4 711.5 L1413.1 719.0 L1428.8 726.1 L1444.5 731.9 L1460.2 737.4 L1475.9 743.2 L1491.6 744.7 L1507.3 746.5 L1523.0 745.0 L1538.7 738.7 L1554.5 730.0 L1570.2 720.0 L1585.9 717.8 L1601.6 717.4 L1617.3 717.9 L1633.0 713.5 L1648.7 708.9" fill="none" stroke="#ff7f0e" stroke-width="2.35" stroke-linejoin="round" stroke-linecap="square"/>
<path d="M564.8 320.7 L580.5 326.2 L596.2 330.8 L611.9 336.8 L627.6 346.0 L643.3 355.2 L659.0 365.4 L674.8 375.6 L690.5 386.3 L706.2 397.2 L721.9 408.1 L737.6 420.2 L753.3 432.3 L769.0 444.0 L784.7 459.8 L800.4 474.7 L816.1 489.9 L831.8 504.3 L847.6 517.6 L863.3 529.7 L879.0 537.7 L894.7 542.4 L910.4 549.3 L926.1 556.8 L941.8 563.1 L957.5 570.1 L973.2 575.8 L988.9 580.2 L1004.6 585.9 L1020.4 593.9 L1036.1 603.5 L1051.8 614.4 L1067.5 626.7 L1083.2 637.2 L1098.9 644.8 L1114.6 650.8 L1130.3 657.6 L1146.0 663.4 L1161.7 667.4 L1177.4 671.4 L1193.2 674.5 L1208.9 678.5 L1224.6 684.0 L1240.3 688.5 L1256.0 688.7 L1271.7 688.5 L1287.4 689.4 L1303.1 688.6 L1318.8 690.0 L1334.5 692.8 L1350.2 695.0 L1366.0 699.4 L1381.7 703.7 L1397.4 709.3 L1413.1 715.2 L1428.8 719.3 L1444.5 723.7 L1460.2 726.9 L1475.9 730.1 L1491.6 733.1 L1507.3 734.9 L1523.0 734.5 L1538.7 731.3 L1554.5 728.6 L1570.2 726.4 L1585.9 724.9 L1601.6 723.8 L1617.3 723.0 L1633.0 721.8 L1648.7 720.7" fill="none" stroke="#2ca02c" stroke-width="2.35" stroke-linejoin="round" stroke-linecap="square"/>
<path d="M1036.1 462.1 L1051.8 470.3 L1067.5 478.8 L1083.2 487.0 L1098.9 495.4 L1114.6 503.0 L1130.3 511.5 L1146.0 519.5 L1161.7 526.9 L1177.4 534.3 L1193.2 541.3 L1208.9 549.3 L1224.6 558.1 L1240.3 566.2 L1256.0 574.2 L1271.7 581.6 L1287.4 589.7 L1303.1 596.4 L1318.8 603.8 L1334.5 611.2 L1350.2 616.3 L1366.0 620.9 L1381.7 626.5 L1397.4 633.1 L1413.1 639.1 L1428.8 644.7 L1444.5 649.7 L1460.2 653.5 L1475.9 658.0 L1491.6 663.5 L1507.3 669.2 L1523.0 674.5 L1538.7 679.0 L1554.5 682.9 L1570.2 685.6 L1585.9 687.9 L1601.6 690.7 L1617.3 693.2 L1633.0 694.6 L1648.7 696.1" fill="none" stroke="#d62728" stroke-width="2.35" stroke-linejoin="round" stroke-linecap="square"/>
<text x="782.8" y="34.3" font-size="25" text-anchor="middle" fill="#000" xml:space="preserve">TRX  2025-12-29  price</text>
<g font-size="20.5" fill="#808080">
<text x="1758.0" y="179.2">0.35</text>
<text x="1758.0" y="259.2">0.34</text>
<text x="1758.0" y="339.2">0.33</text>
<text x="1758.0" y="419.2">0.32</text>
<text x="1758.0" y="499.2">0.31</text>
<text x="1758.0" y="579.2">0.30</text>
<text x="1758.0" y="659.2">0.29</text>
<text x="1758.0" y="739.2">0.28</text>
<text x="1758.0" y="819.2">0.27</text>
<text x="1758.0" y="1068.1">20</text>
<text x="1758.0" y="1019.1">40</text>
<text x="1758.0" y="970.1">60</text>
<text x="1758.0" y="921.1">80</text>
<text x="1758.0" y="872.1">100</text>
</g>
<g font-size="20.83" fill="#808080">
<text transform="translate(107.5 1152.9) rotate(-45)" text-anchor="middle" y="7.6">Sep 21</text>
<text transform="translate(421.3 1151.9) rotate(-45)" text-anchor="middle" y="7.6">Oct 11</text>
<text transform="translate(735.3 1152.0) rotate(-45)" text-anchor="middle" y="7.6">Oct 31</text>
<text transform="translate(1049.4 1154.0) rotate(-45)" text-anchor="middle" y="7.6">Nov 20</text>
<text transform="translate(1363.5 1153.8) rotate(-45)" text-anchor="middle" y="7.6">Dec 10</text>
</g>
<g font-size="20.83" fill="#000">
<text transform="translate(1828.8 502) rotate(-90)" text-anchor="middle">Price</text>
<text transform="translate(1825.3 1036.9) rotate(-90)" xml:space="preserve">Volume  10</text>
<text transform="translate(1816.7 917.7) rotate(-90) scale(1 1.14)" font-size="14.58">6</text>
</g>
</svg>
</body></html>
